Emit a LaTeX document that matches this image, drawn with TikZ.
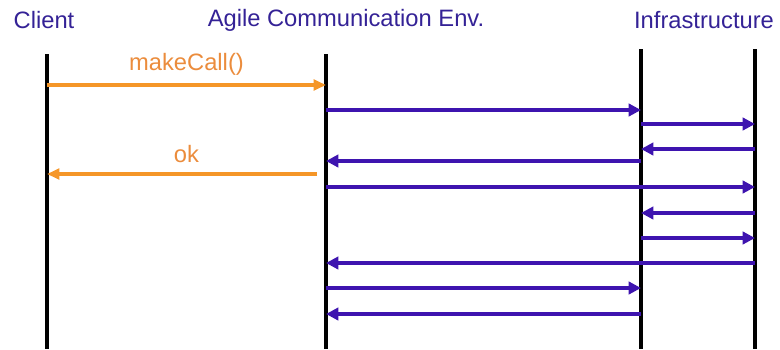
\documentclass[tikz,border=0pt]{standalone}
\usepackage{fontspec}
\setmainfont{Liberation Sans}
\usepackage{tikz}
\usetikzlibrary{arrows.meta}
\definecolor{titleblue}{RGB}{52,34,150}
\definecolor{msgblue}{RGB}{62,20,175}
\definecolor{callorange}{RGB}{245,150,40}
\definecolor{labelorange}{RGB}{235,140,60}
\tikzset{lane title/.style={text=titleblue,font=\fontsize{13.5}{15}\selectfont,inner sep=0pt},
	lifeline/.style={draw=black,line width=2pt},
	msg/.style={draw=msgblue,line width=2.1pt,-{Triangle[length=7pt,width=7pt]}},
	call/.style={draw=callorange,line width=2.1pt,-{Triangle[length=7pt,width=6pt]}},
	call label/.style={text=labelorange,font=\fontsize{13.5}{15}\selectfont,inner sep=0pt},}

\begin{document}
\begin{tikzpicture}[x=0.02cm,y=-0.02cm]
		\useasboundingbox (0,0) rectangle (780,349);
		% lanes
		\node[lane title] (client) at (44,20) {Client};
		\node[lane title] (ace) at (346,20) {Agile Communication Env.};
		\node[lane title] (infra) at (704,20) {Infrastructure};
		\coordinate (c) at (47,0);
		\coordinate (a) at (326,0);
		\coordinate (i) at (641,0);
		\coordinate (j) at (755,0);
		\draw[lifeline] (c |- 0,54) -- (c |- 0,349);
		\draw[lifeline] (a |- 0,54) -- (a |- 0,349);
		\draw[lifeline] (i |- 0,49) -- (i |- 0,349);
		\draw[lifeline] (j |- 0,49) -- (j |- 0,349);

		% client call and reply
		\path
		(c |- 0,85) edge[call] node[call label, above=4.5pt] {makeCall()} (a |- 0,85)
		(a |- 0,174) edge[call, shorten <=5] node[call label, above=5.5pt] {ok} (c |- 0,174);

		% messages behind the scenes
		\path
		(a |- 0,110) edge[msg] (i |- 0,110)
		(i |- 0,124) edge[msg] (j |- 0,124)
		(j |- 0,149) edge[msg] (i |- 0,149)
		(i |- 0,161) edge[msg] (a |- 0,161)
		(a |- 0,187) edge[msg] (j |- 0,187)
		(j |- 0,213) edge[msg] (i |- 0,213)
		(i |- 0,238) edge[msg] (j |- 0,238)
		(j |- 0,263) edge[msg] (a |- 0,263)
		(a |- 0,288) edge[msg] (i |- 0,288)
		(i |- 0,314) edge[msg] (a |- 0,314);
\end{tikzpicture}
\end{document}
